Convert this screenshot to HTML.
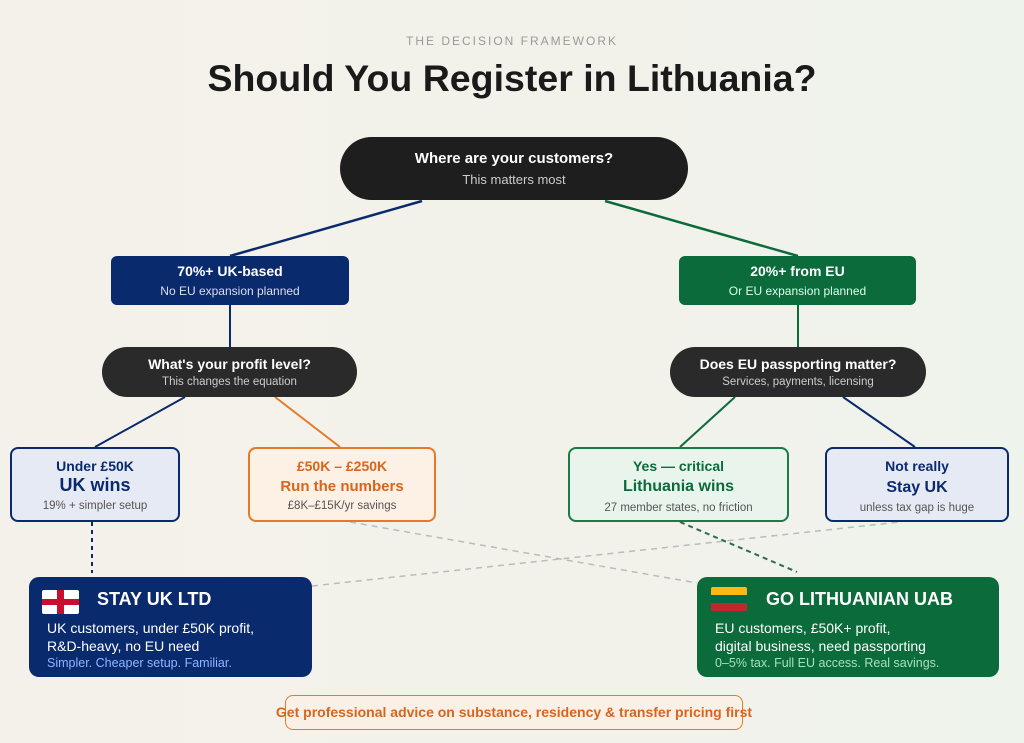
<!DOCTYPE html>
<html><head><meta charset="utf-8"><style>
body{margin:0;width:1024px;height:743px;overflow:hidden;font-family:"Liberation Sans",sans-serif;background:linear-gradient(90deg,#f4f1ea 0%,#f3f2ea 50%,#eef3ec 100%);position:relative}
.a{position:absolute;box-sizing:border-box;text-align:center}
.t{position:absolute;left:0;right:0;text-align:center;white-space:nowrap}
</style></head><body>
<svg width="1024" height="743" style="position:absolute;left:0;top:0">
<line x1="422" y1="201" x2="230" y2="256" stroke="#0a2a6e" stroke-width="2.5"/>
<line x1="605" y1="201" x2="798" y2="256" stroke="#0b6b3a" stroke-width="2.5"/>
<line x1="230" y1="305" x2="230" y2="347" stroke="#0a2a6e" stroke-width="2"/>
<line x1="798" y1="305" x2="798" y2="347" stroke="#0b6b3a" stroke-width="2"/>
<line x1="185" y1="397" x2="95" y2="447" stroke="#0a2a6e" stroke-width="2"/>
<line x1="275" y1="397" x2="340" y2="447" stroke="#e57a2a" stroke-width="2"/>
<line x1="735" y1="397" x2="680" y2="447" stroke="#0b6b3a" stroke-width="2"/>
<line x1="843" y1="397" x2="915" y2="447" stroke="#0a2a6e" stroke-width="2"/>
<line x1="92" y1="522" x2="92" y2="573" stroke="#0a2a6e" stroke-width="2" stroke-dasharray="4,4"/>
<line x1="350" y1="522" x2="697" y2="583" stroke="#bbb" stroke-width="1.5" stroke-dasharray="6,5"/>
<line x1="312" y1="586" x2="900" y2="522" stroke="#bbb" stroke-width="1.5" stroke-dasharray="6,5"/>
<line x1="680" y1="522" x2="797" y2="572" stroke="#2f6b4a" stroke-width="2" stroke-dasharray="5,4"/>
</svg>
<div class="t" style="top:34px;font-size:12px;letter-spacing:2px;color:#999">THE DECISION FRAMEWORK</div>
<div class="t" style="top:57px;font-size:37.5px;font-weight:bold;color:#1a1a1a">Should You Register in Lithuania?</div>

<div class="a" style="left:340px;top:137px;width:348px;height:63px;border-radius:32px;background:#1e1e1e">
<div class="t" style="top:13px;font-size:15px;font-weight:bold;color:#fff">Where are your customers?</div>
<div class="t" style="top:35px;font-size:13px;color:#ccc">This matters most</div></div>

<div class="a" style="left:111px;top:256px;width:238px;height:49px;border-radius:6px;background:#0a2a6e">
<div class="t" style="top:7px;font-size:14px;font-weight:bold;color:#fff">70%+ UK-based</div>
<div class="t" style="top:28px;font-size:12px;color:#dde">No EU expansion planned</div></div>
<div class="a" style="left:679px;top:256px;width:237px;height:49px;border-radius:6px;background:#0b6b3a">
<div class="t" style="top:7px;font-size:14px;font-weight:bold;color:#fff">20%+ from EU</div>
<div class="t" style="top:28px;font-size:12px;color:#dfe">Or EU expansion planned</div></div>

<div class="a" style="left:102px;top:347px;width:255px;height:50px;border-radius:25px;background:#2a2a2a">
<div class="t" style="top:9px;font-size:14px;font-weight:bold;color:#fff">What's your profit level?</div>
<div class="t" style="top:29px;font-size:11.5px;color:#ccc">This changes the equation</div></div>
<div class="a" style="left:670px;top:347px;width:256px;height:50px;border-radius:25px;background:#2a2a2a">
<div class="t" style="top:9px;font-size:14px;font-weight:bold;color:#fff">Does EU passporting matter?</div>
<div class="t" style="top:29px;font-size:11.5px;color:#ccc">Services, payments, licensing</div></div>

<div class="a" style="left:10px;top:447px;width:170px;height:75px;border-radius:8px;background:#e6eaf5;border:2px solid #0a2a6e">
<div class="t" style="top:9px;font-size:14px;font-weight:bold;color:#0a2a6e">Under £50K</div>
<div class="t" style="top:26px;font-size:18px;font-weight:bold;color:#0a2a6e">UK wins</div>
<div class="t" style="top:51px;font-size:11.5px;color:#555">19% + simpler setup</div></div>
<div class="a" style="left:248px;top:447px;width:188px;height:75px;border-radius:8px;background:#fdf0e4;border:2px solid #e57a2a">
<div class="t" style="top:9px;font-size:14px;font-weight:bold;color:#d9651c">£50K – £250K</div>
<div class="t" style="top:29px;font-size:15px;font-weight:bold;color:#d9651c">Run the numbers</div>
<div class="t" style="top:51px;font-size:11.5px;color:#555">£8K–£15K/yr savings</div></div>
<div class="a" style="left:568px;top:447px;width:221px;height:75px;border-radius:8px;background:#e9f5ec;border:2px solid #1c7a46">
<div class="t" style="top:9px;font-size:14px;font-weight:bold;color:#0b6b3a">Yes — critical</div>
<div class="t" style="top:29px;font-size:16px;font-weight:bold;color:#0b6b3a">Lithuania wins</div>
<div class="t" style="top:53px;font-size:11.5px;color:#555">27 member states, no friction</div></div>
<div class="a" style="left:825px;top:447px;width:184px;height:75px;border-radius:8px;background:#e6eaf5;border:2px solid #0a2a6e">
<div class="t" style="top:9px;font-size:14px;font-weight:bold;color:#0a2a6e">Not really</div>
<div class="t" style="top:30px;font-size:16px;font-weight:bold;color:#0a2a6e">Stay UK</div>
<div class="t" style="top:53px;font-size:11.5px;color:#555">unless tax gap is huge</div></div>

<div class="a" style="left:29px;top:577px;width:283px;height:100px;border-radius:10px;background:#0a2a6e;text-align:left">
<div style="position:absolute;left:13px;top:13px;width:37px;height:24px;background:#fff;border-radius:2px"><div style="position:absolute;left:15px;top:0;width:7px;height:24px;background:#c8102e"></div><div style="position:absolute;left:0;top:9px;width:37px;height:6px;background:#c8102e"></div></div>
<div style="position:absolute;left:68px;top:12px;font-size:18px;font-weight:bold;color:#fff">STAY UK LTD</div>
<div style="position:absolute;left:18px;top:42px;font-size:14px;line-height:18px;color:#fff">UK customers, under £50K profit,<br>R&amp;D-heavy, no EU need</div>
<div style="position:absolute;left:18px;top:79px;font-size:12.5px;color:#8fb4ff">Simpler. Cheaper setup. Familiar.</div></div>

<div class="a" style="left:697px;top:577px;width:302px;height:100px;border-radius:10px;background:#0b6b3a;text-align:left">
<div style="position:absolute;left:14px;top:10px;width:36px;height:24px;border-radius:2px;background:linear-gradient(#fdb913 0 33%,#006a44 33% 66%,#c1272d 66%)"></div>
<div style="position:absolute;left:69px;top:12px;font-size:18px;font-weight:bold;color:#fff">GO LITHUANIAN UAB</div>
<div style="position:absolute;left:18px;top:42px;font-size:14px;line-height:18px;color:#fff">EU customers, £50K+ profit,<br>digital business, need passporting</div>
<div style="position:absolute;left:18px;top:79px;font-size:12.5px;color:#a6e0bd">0–5% tax. Full EU access. Real savings.</div></div>

<div class="a" style="left:285px;top:695px;width:458px;height:35px;border-radius:8px;background:#fbf0e6;border:1.5px solid #e57a2a"></div>
<div class="t" style="top:704px;left:0;width:1028px;font-size:14px;font-weight:bold;color:#d9651c">Get professional advice on substance, residency &amp; transfer pricing first</div>
</body></html>
